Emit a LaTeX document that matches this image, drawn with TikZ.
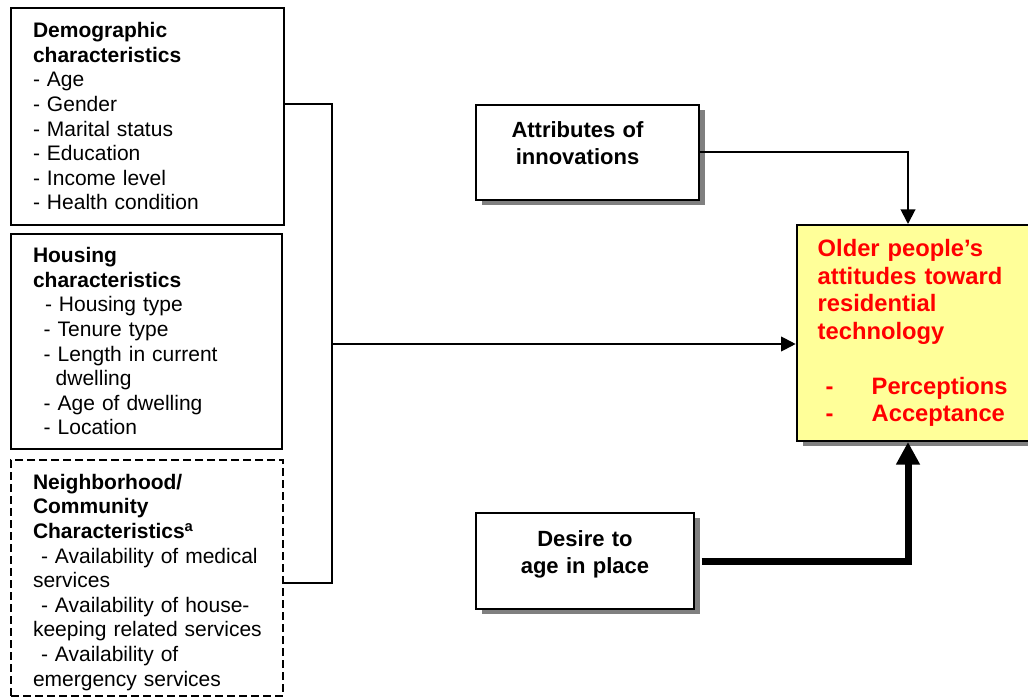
\documentclass[tikz,border=0pt]{standalone}
\usepackage{fontspec}
\setmainfont{Liberation Sans}
\usetikzlibrary{arrows.meta,shadows}
\definecolor{notered}{HTML}{FF0000}
\definecolor{noteyellow}{HTML}{FFFF99}
\definecolor{shadegray}{HTML}{808080}
\newcommand\itemind[1][8pt]{\hspace*{#1}}

\begin{document}
\begin{tikzpicture}[x=0.75pt, y=-0.75pt,
  lbox/.style={draw, line width=1.5pt, anchor=north west, align=left,
               inner xsep=16.5pt, inner ysep=0pt,
               font=\fontsize{15.75pt}{18.45pt}\selectfont},
  cbox/.style={draw, line width=1.5pt, fill=white, anchor=north west,
               align=center, inner xsep=7.5pt, inner ysep=0pt,
               font=\bfseries\fontsize{16.5pt}{20.5pt}\selectfont,
               drop shadow={shadow xshift=4.5pt, shadow yshift=-4pt,
                            fill=shadegray, opacity=1}},
  tbox/.style={cbox, fill=noteyellow, align=left, inner xsep=15.75pt,
               text=notered, font=\bfseries\fontsize{17.8pt}{20.6pt}\selectfont},
  link/.style={line width=1.5pt},
  arr/.style={link, -{Triangle[width=11pt,length=11pt]}},
  heavy/.style={line width=5.25pt, -{Triangle[width=17pt,length=17pt]}},
]
  \useasboundingbox (0,0) rectangle (1028,698);

  % Background factors (left column)
  \node[lbox, text width=172pt, text height=22.3pt, text depth=140.5pt]
    (demo) at (10,7)
    {\textbf{Demographic}\\ \textbf{characteristics}\\ - Age\\ - Gender\\
     - Marital status\\ - Education\\ - Income level\\ - Health condition};
  \node[lbox, text width=170.6pt, text height=21.75pt, text depth=139.7pt]
    (house) at (10,232.7)
    {\textbf{Housing}\\ \textbf{characteristics}\\ \itemind[9pt]- Housing type\\
     \itemind- Tenure type\\ \itemind- Length in current\\
     \itemind[17pt]dwelling\\ \itemind- Age of dwelling\\ \itemind- Location};
  \node[lbox, dash pattern=on 6pt off 3pt, text width=171pt,
        text height=22pt, text depth=155pt]
    (nbhd) at (10,459)
    {\textbf{Neighborhood/}\\ \textbf{Community}\\
     \textbf{Characteristics\textsuperscript{a}}\\
     \mbox{\itemind[6pt]- Availability of medical}\\ services\\
     \mbox{\itemind[6pt]- Availability of house-}\\
     \mbox{keeping related services}\\
     \mbox{\itemind[6pt]- Availability of}\\ \mbox{emergency services}};

  % Middle column
  \node[cbox, text width=152.25pt, text height=24.5pt, text depth=46.7pt]
    (attr) at (475,104)
    {\mbox{Attributes of\hspace{15pt}}\\ \mbox{innovations\hspace{15pt}}};
  \node[cbox, text width=148.5pt, text height=24.75pt, text depth=47.25pt]
    (desire) at (475,512) {Desire to\\ age in place};

  % Outcome
  \node[tbox, text width=147pt, text height=24pt, text depth=138pt]
    (target) at (795.7,224)
    {Older people’s\\ attitudes toward\\ residential\\ technology\\[20.6pt]
     \makebox[40.5pt][l]{\itemind[6pt]-}Perceptions\\
     \makebox[40.5pt][l]{\itemind[6pt]-}Acceptance};

  % Connectors
  \coordinate (jtop) at (332,104);
  \coordinate (jmid) at (332,344);
  \coordinate (jbot) at (332,583);
  \coordinate (tcol) at (908,0);
  \draw[link] (demo.east |- jtop) -- (jtop) -- (jbot) -- (nbhd.east |- jbot);
  \draw[arr] (jmid) -- (target.west |- jmid);
  \draw[arr] (attr.east) -| (tcol |- target.north);
  \draw[heavy] ([xshift=5pt]desire.east) -| (tcol |- target.south);
\end{tikzpicture}
\end{document}
